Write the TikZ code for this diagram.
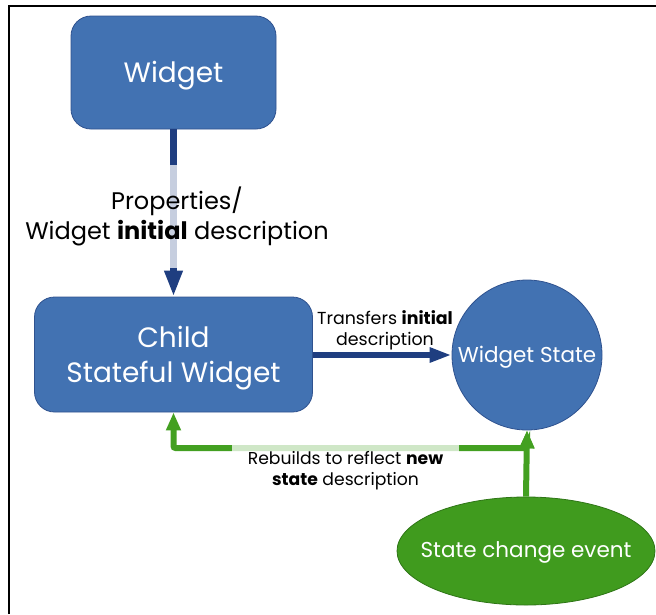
\documentclass[tikz,border=0pt]{standalone}
\usepackage{fontspec}
\setmainfont{Poppins}
\usetikzlibrary{arrows.meta,shapes.geometric}
\definecolor{boxblue}{RGB}{66,114,178}
\definecolor{boxedge}{RGB}{47,82,143}
\definecolor{arrblue}{RGB}{31,62,128}
\definecolor{evgreen}{RGB}{64,155,30}
\definecolor{evedge}{RGB}{46,117,22}
\definecolor{arrgreen}{RGB}{67,160,33}
\newcommand{\lowertext}[2]{\raisebox{-#1}[\height][\depth]{#2}}
\begin{document}
\begin{tikzpicture}[x=1pt,y=-1pt,
  box/.style={draw=boxedge, line width=0.8pt, fill=boxblue, rounded corners=20pt,
    text=white, align=center, inner sep=0pt, font=\fontsize{28}{35}\selectfont},
  statecirc/.style={circle, draw=boxedge, line width=0.8pt, fill=boxblue, text=white,
    minimum size=150pt, inner sep=0pt, font=\fontsize{21.5}{25}\selectfont},
  evell/.style={ellipse, draw=evedge, line width=0.8pt, fill=evgreen, text=white,
    minimum width=258pt, minimum height=108pt, inner ysep=0pt, inner xsep=-30pt,
    font=\fontsize{21.5}{25}\selectfont},
  bluearr/.style={draw=arrblue, line width=6.5pt, -{Triangle[length=26pt,width=17pt]}},
  greenarr/.style={draw=arrgreen, line width=6pt, -{Triangle[length=18pt,width=14pt]}},
  veil/.style={fill=white, fill opacity=0.75, text opacity=1, inner sep=0pt, align=center},
  frame/.style={draw=black, line width=2.5pt}
]
\useasboundingbox (0,0) rectangle (656,614);
\draw[frame] (9,614) -- (9,6) -- (656,6);

\node[box, minimum width=205pt, minimum height=113pt] (widget) at (173.5,72.5) {\lowertext{3pt}{Widget}};
\node[box, minimum width=278pt, minimum height=115pt] (child) at (173.5,354.5) {\lowertext{4pt}{Child}\\\lowertext{4pt}{Stateful Widget}};
\node[statecirc] (state) at (527,355) {\lowertext{2pt}{Widget State}};
\node[evell] (event) at (526,551) {\lowertext{1pt}{State change event}};

\draw[bluearr] (widget.south) -- (child.north);
\draw[bluearr, -{Triangle[length=22pt,width=14pt]}] (child.east |- state.west) -- (state.west);
\draw[greenarr] (event.north) -- (state.south);
\coordinate (turn) at (527,448);
\draw[greenarr, {Triangle[length=18pt,width=14pt]}-{Triangle[length=18pt,width=14pt]}, rounded corners=2pt]
  (state.south) -- (turn) -| (child.south);

\node[veil, minimum width=310pt, minimum height=103pt, font=\fontsize{24}{30}\selectfont] (props) at (177,216.5)
  {Properties/\\Widget \textbf{initial} description};
\node[align=center, inner sep=0pt, font=\fontsize{17.4}{21}\selectfont] (transfers) at (385,330)
  {Transfers \textbf{initial}\\description};
\node[veil, minimum width=227pt, minimum height=60pt, font=\fontsize{17.2}{21}\selectfont] (rebuilds) at (345.5,470.5)
  {Rebuilds to reflect \textbf{new}\\\textbf{state} description};
\end{tikzpicture}
\end{document}
